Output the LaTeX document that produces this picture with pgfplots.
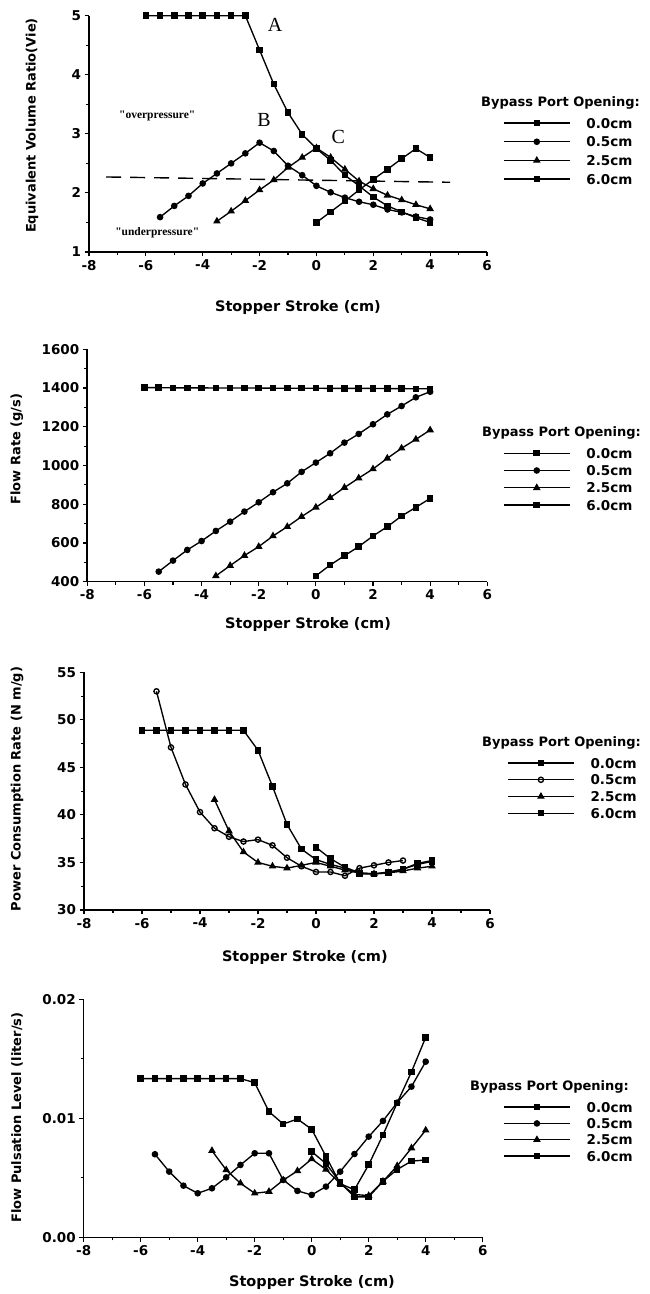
\documentclass[border=0pt]{standalone}
\usepackage{fontspec}
\setmainfont{DejaVu Sans}
\newfontfamily\serifA{Liberation Serif}
\usepackage{pgfplots}
\pgfplotsset{compat=1.18}
\newcommand{\tkf}{\fontsize{13.5}{15}\selectfont\bfseries}
\newcommand{\lbf}{\fontsize{14.5}{16}\selectfont\bfseries}
\newcommand{\ylf}{\fontsize{13}{15}\selectfont\bfseries}
\newcommand{\lgf}{\fontsize{13.5}{15}\selectfont\bfseries}
\newcommand{\ltf}{\fontsize{13}{15}\selectfont\bfseries}
\pgfplotsset{
  base/.style={
    scale only axis, anchor=south west,
    xmin=-8, xmax=6, xtick={-8,-6,...,6},
    axis lines=left, axis line style={-, line width=1.6pt},
    enlargelimits=false, clip=false,
    tick align=outside, major tick length=4.5pt, minor tick length=3pt,
    every tick/.style={black, line width=1.1pt},
    minor x tick num=1, minor y tick num=1,
    tick label style={font=\tkf},
    /pgf/number format/assume math mode=true,
    /pgf/number format/set thousands separator={},
    xlabel={Stopper Stroke (cm)},
    xlabel style={font=\lbf, anchor=center},
    ylabel style={font=\ylf, anchor=center, rotate=0},
    every axis plot/.append style={black, line width=1.35pt, mark size=2.6pt},
    legend image code/.code={\draw[mark repeat=2,mark phase=2,#1] plot coordinates {(0pt,0pt) (33pt,0pt) (66pt,0pt)};},
    legend cell align=left,
  },
  lg/.style n args={3}{legend style={draw=none, fill=none, at={(#1,#2)}, anchor=north west,
     font=\lgf, row sep=0pt, column sep=16pt, inner sep=0pt,
     nodes={inner sep=0pt, minimum height=#3, text depth=0pt}}},
  m00/.style={mark=square*},
  m05/.style={mark=*},
  m25/.style={mark=triangle*, mark size=3.1pt},
  m60/.style={mark=square*},
}
\begin{document}
\begin{tikzpicture}
\path[use as bounding box] (0,0) rectangle (649pt,1294pt);
% ---------------- Panel 1
\begin{axis}[base, at={(89pt,1042pt)}, width=398pt, height=236.3pt,
  ymin=1, ymax=5, ytick={1,2,3,4,5},
  ylabel={Equivalent Volume Ratio(Vie)},
  xlabel style={at={(axis description cs:0.525,-0.237)}},
  ylabel style={at={(axis description cs:-0.143,0.535)}},
  lg={1.040}{0.586}{18.7pt}]
\addplot[m00] coordinates {(-6,5)(-5.5,5)(-5,5)(-4.5,5)(-4,5)(-3.5,5)(-3,5)(-2.5,5)(-2,4.42)(-1.5,3.84)(-1,3.36)(-0.5,2.99)(0,2.75)(0.5,2.55)(1,2.3)(1.5,2.12)(2,1.93)(2.5,1.78)(3,1.68)(3.5,1.58)(4,1.5)};
\addlegendentry{0.0cm}
\addplot[m05] coordinates {(-5.5,1.59)(-5,1.78)(-4.5,1.95)(-4,2.16)(-3.5,2.33)(-3,2.5)(-2.5,2.67)(-2,2.85)(-1.5,2.71)(-1,2.46)(-0.5,2.3)(0,2.12)(0.5,2.01)(1,1.92)(1.5,1.85)(2,1.8)(2.5,1.72)(3,1.67)(3.5,1.6)(4,1.55)};
\addlegendentry{0.5cm}
\addplot[m25] coordinates {(-3.5,1.52)(-3,1.69)(-2.5,1.87)(-2,2.05)(-1.5,2.22)(-1,2.43)(-0.5,2.6)(0,2.76)(0.5,2.6)(1,2.4)(1.5,2.2)(2,2.07)(2.5,1.96)(3,1.88)(3.5,1.8)(4,1.73)};
\addlegendentry{2.5cm}
\addplot[m60] coordinates {(0,1.5)(0.5,1.68)(1,1.86)(1.5,2.05)(2,2.23)(2.5,2.4)(3,2.58)(3.5,2.75)(4,2.6)};
\addlegendentry{6.0cm}
\addplot[dash pattern=on 15pt off 9pt, line width=1.4pt, forget plot] coordinates {(-7.4,2.27)(4.7,2.18)};
\node[font=\serifA\fontsize{20}{22}\selectfont] at (axis cs:-1.45,4.84) {A};
\node[font=\serifA\fontsize{20}{22}\selectfont] at (axis cs:-1.84,3.23) {B};
\node[font=\serifA\fontsize{20}{22}\selectfont] at (axis cs:0.77,2.95) {C};
\node[font=\serifA\bfseries\fontsize{11.5}{13}\selectfont] at (axis cs:-5.6,3.3) {"overpressure"};
\node[font=\serifA\bfseries\fontsize{11.5}{13}\selectfont] at (axis cs:-5.6,1.32) {"underpressure"};
\end{axis}
\node[anchor=west, font=\ltf, inner sep=0pt] at (481pt,1191pt) {Bypass Port Opening:};
% ---------------- Panel 2
\begin{axis}[base, at={(87.3pt,712.3pt)}, width=400pt, height=232.4pt,
  ymin=400, ymax=1600, ytick={400,600,...,1600},
  ylabel={Flow Rate (g/s)},
  xlabel style={at={(axis description cs:0.552,-0.186)}},
  ylabel style={at={(axis description cs:-0.176,0.571)}},
  lg={1.039}{0.591}{17.3pt}]
\addplot[m00] coordinates {(-6,1402)(-5.5,1402)(-5,1401)(-4.5,1401)(-4,1401)(-3.5,1400)(-3,1400)(-2.5,1400)(-2,1400)(-1.5,1399)(-1,1399)(-0.5,1399)(0,1399)(0.5,1398)(1,1398)(1.5,1398)(2,1398)(2.5,1397)(3,1397)(3.5,1396)(4,1396)};
\addlegendentry{0.0cm}
\addplot[m05] coordinates {(-5.5,452)(-5,509)(-4.5,564)(-4,610)(-3.5,662)(-3,710)(-2.5,762)(-2,810)(-1.5,862)(-1,908)(-0.5,967)(0,1015)(0.5,1063)(1,1118)(1.5,1163)(2,1213)(2.5,1264)(3,1307)(3.5,1352)(4,1381)};
\addlegendentry{0.5cm}
\addplot[m25] coordinates {(-3.5,430)(-3,483)(-2.5,535)(-2,581)(-1.5,636)(-1,684)(-0.5,736)(0,784)(0.5,834)(1,886)(1.5,935)(2,982)(2.5,1037)(3,1089)(3.5,1135)(4,1183)};
\addlegendentry{2.5cm}
\addplot[m60] coordinates {(0,430)(0.5,486)(1,534)(1.5,581)(2,636)(2.5,684)(3,739)(3.5,784)(4,830)};
\addlegendentry{6.0cm}
\end{axis}
\node[anchor=west, font=\ltf, inner sep=0pt] at (482pt,861pt) {Bypass Port Opening:};
% ---------------- Panel 3
\begin{axis}[base, at={(84pt,384pt)}, width=406pt, height=237.7pt,
  ymin=30, ymax=55, ytick={30,35,...,55},
  ylabel={Power Consumption Rate (N m/g)},
  xlabel style={at={(axis description cs:0.544,-0.198)}},
  ylabel style={at={(axis description cs:-0.165,0.509)}},
  lg={1.042}{0.654}{16.7pt}]
\addplot[m00] coordinates {(-6,48.9)(-5.5,48.9)(-5,48.9)(-4.5,48.9)(-4,48.9)(-3.5,48.9)(-3,48.9)(-2.5,48.9)(-2,46.8)(-1.5,43.0)(-1,39.0)(-0.5,36.4)(0,35.3)(0.5,34.8)(1,34.4)(1.5,33.8)(2,33.8)(2.5,34.0)(3,34.3)(3.5,34.8)(4,35.1)};
\addlegendentry{0.0cm}
\addplot[mark=o, mark options={fill=white}] coordinates {(-5.5,53.0)(-5,47.1)(-4.5,43.2)(-4,40.3)(-3.5,38.6)(-3,37.7)(-2.5,37.2)(-2,37.4)(-1.5,36.8)(-1,35.5)(-0.5,34.6)(0,34.0)(0.5,34.0)(1,33.6)(1.5,34.4)(2,34.7)(2.5,35.0)(3,35.2)};
\addlegendentry{0.5cm}
\addplot[m25] coordinates {(-3.5,41.6)(-3,38.3)(-2.5,36.1)(-2,35.0)(-1.5,34.6)(-1,34.4)(-0.5,34.7)(0,35.0)(0.5,34.6)(1,34.2)(1.5,33.9)(2,33.8)(2.5,33.9)(3,34.1)(3.5,34.4)(4,34.6)};
\addlegendentry{2.5cm}
\addplot[m60] coordinates {(0,36.6)(0.5,35.4)(1,34.5)(1.5,33.9)(2,33.8)(2.5,33.9)(3,34.3)(3.5,34.9)(4,35.2)};
\addlegendentry{6.0cm}
\end{axis}
\node[anchor=west, font=\ltf, inner sep=0pt] at (482pt,551pt) {Bypass Port Opening:};
% ---------------- Panel 4
\begin{axis}[base, at={(83.7pt,56.7pt)}, width=399pt, height=238pt,
  ymin=0, ymax=0.02, ytick={0,0.01,0.02}, yticklabels={0.00,0.01,0.02},
  scaled y ticks=false,
  ylabel={Flow Pulsation Level (liter/s)},
  xlabel style={at={(axis description cs:0.572,-0.188)}},
  ylabel style={at={(axis description cs:-0.167,0.503)}},
  lg={1.051}{0.582}{16.3pt}]
\addplot[m00] coordinates {(-6,0.01333)(-5.5,0.01333)(-5,0.01333)(-4.5,0.01333)(-4,0.01333)(-3.5,0.01333)(-3,0.01333)(-2.5,0.01333)(-2,0.0130)(-1.5,0.01056)(-1,0.00952)(-0.5,0.00994)(0,0.00908)(0.5,0.0068)(1,0.0045)(1.5,0.0040)(2,0.0061)(2.5,0.0086)(3,0.0113)(3.5,0.0139)(4,0.0168)};
\addlegendentry{0.0cm}
\addplot[m05] coordinates {(-5.5,0.00698)(-5,0.00552)(-4.5,0.00434)(-4,0.0037)(-3.5,0.00412)(-3,0.00504)(-2.5,0.00608)(-2,0.00706)(-1.5,0.00706)(-1,0.00482)(-0.5,0.0039)(0,0.00356)(0.5,0.00426)(1,0.00552)(1.5,0.007)(2,0.00846)(2.5,0.00978)(3,0.01132)(3.5,0.01266)(4,0.01476)};
\addlegendentry{0.5cm}
\addplot[m25] coordinates {(-3.5,0.00728)(-3,0.00566)(-2.5,0.00454)(-2,0.0037)(-1.5,0.00384)(-1,0.0048)(-0.5,0.00558)(0,0.00658)(0.5,0.0057)(1,0.0045)(1.5,0.0036)(2,0.0035)(2.5,0.0047)(3,0.006)(3.5,0.0075)(4,0.009)};
\addlegendentry{2.5cm}
\addplot[m60] coordinates {(0,0.0072)(0.5,0.0062)(1,0.0046)(1.5,0.0034)(2,0.0034)(2.5,0.0047)(3,0.0057)(3.5,0.0064)(4,0.0065)};
\addlegendentry{6.0cm}
\end{axis}
\node[anchor=west, font=\ltf, inner sep=0pt] at (470pt,207pt) {Bypass Port Opening:};
\end{tikzpicture}
\end{document}
